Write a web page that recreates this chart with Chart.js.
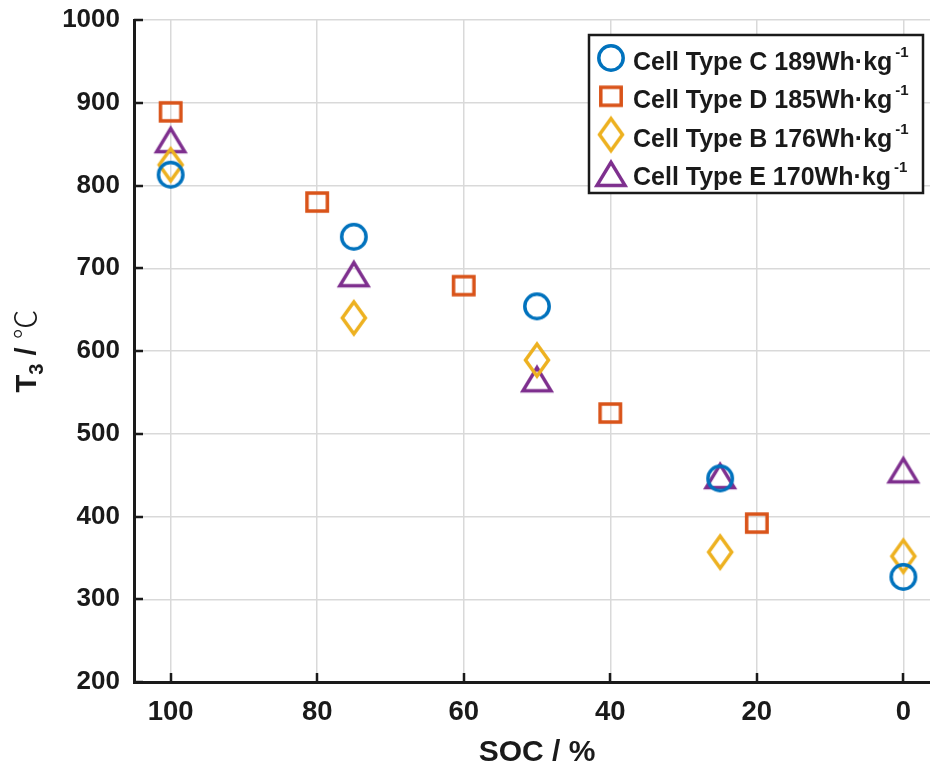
<!DOCTYPE html>
<html><head><meta charset="utf-8">
<script src="https://cdn.jsdelivr.net/npm/chart.js@4/dist/chart.umd.min.js"></script>
<style>html,body{margin:0;padding:0;overflow:hidden;background:#fff}#wrap{width:940px;height:765px;position:relative}</style>
</head><body><div id="wrap"><canvas id="c" width="940" height="765"></canvas></div>
<script>
// ---- data ----
const socC = [100, 75, 50, 25, 0];
const t3C  = [813, 738, 654, 446, 327];
const socD = [100, 80, 60, 40, 20];
const t3D  = [889, 780, 679, 525, 392];
const socB = [100, 75, 50, 25, 0];
const t3B  = [825, 640, 589, 357, 352];
const socE = [100, 75, 50, 25, 0];
const t3E  = [856, 694, 567, 450, 457];
const seriesNames = ['Cell Type C 189Wh\u00b7kg', 'Cell Type D 185Wh\u00b7kg', 'Cell Type B 176Wh\u00b7kg', 'Cell Type E 170Wh\u00b7kg'];
const seriesSup = '-1';
const xTicks = [0, 20, 40, 60, 80, 100];
const yTicks = [200, 300, 400, 500, 600, 700, 800, 900, 1000];
const xTitle = 'SOC / %';

const FONT = '"Liberation Sans", Arial, Helvetica, sans-serif';
const INK = '#1a1a1a';
const colors = ['#0072BD', '#D95319', '#EDB120', '#7E2F8E'];

function mk(w, h, color, draw) {
  const c = document.createElement('canvas'); c.width = w; c.height = h;
  const g = c.getContext('2d'); g.strokeStyle = color; g.lineWidth = 3.5; g.lineJoin = 'miter';
  g.beginPath(); draw(g, w / 2, h / 2); g.stroke(); return c;
}
const mCircle = mk(32, 32, colors[0], (g, cx, cy) => { g.arc(cx, cy, 12.2, 0, Math.PI * 2); });
const mSquare = mk(28, 26, colors[1], (g, cx, cy) => { g.rect(cx - 10.2, cy - 9, 20.4, 18); });
const mDiamond = mk(32, 42, colors[2], (g, cx, cy) => { g.moveTo(cx, cy - 16); g.lineTo(cx + 11.5, cy); g.lineTo(cx, cy + 16); g.lineTo(cx - 11.5, cy); g.closePath(); });
const mTri = mk(38, 36, colors[3], (g, cx, cy) => { const y0 = cy - 10.6; g.moveTo(cx, y0); g.lineTo(cx + 14, y0 + 23); g.lineTo(cx - 14, y0 + 23); g.closePath(); });
const markers = [mCircle, mSquare, mDiamond, mTri];

function pts(xs, ys) { return xs.map((x, i) => ({ x: x, y: ys[i] })); }

const decor = {
  id: 'decor',
  beforeDatasetsDraw(chart) {
    const ctx = chart.ctx, a = chart.chartArea, xs = chart.scales.x, ys = chart.scales.y;
    ctx.save(); ctx.strokeStyle = INK; ctx.lineWidth = 2.5;
    ctx.beginPath();
    xTicks.forEach(v => { const p = Math.round(xs.getPixelForValue(v)); ctx.moveTo(p, a.bottom); ctx.lineTo(p, a.bottom - 9); });
    yTicks.forEach(v => { const p = Math.round(ys.getPixelForValue(v)); ctx.moveTo(a.left, p); ctx.lineTo(a.left + 9, p); });
    ctx.stroke(); ctx.restore();
  },
  afterDraw(chart) {
    const ctx = chart.ctx, a = chart.chartArea;
    ctx.save();
    // x title
    ctx.fillStyle = INK; ctx.font = 'bold 30px ' + FONT; ctx.textAlign = 'center'; ctx.textBaseline = 'alphabetic';
    ctx.fillText(xTitle, (a.left + a.right) / 2, 761);
    // y title: T3 / ℃
    ctx.save();
    ctx.translate(36, (a.top + a.bottom) / 2); ctx.rotate(-Math.PI / 2);
    ctx.textAlign = 'left';
    const parts = [
      { t: 'T', f: 'bold 29px ' + FONT, dy: 0 },
      { t: '3', f: 'bold 20px ' + FONT, dy: 7 },
      { t: ' / ', f: 'bold 29px ' + FONT, dy: 0 },
      { t: '\u2103', f: '300 30px "Noto Sans CJK SC", "DejaVu Sans", sans-serif', dy: 0 }
    ];
    let total = 0; parts.forEach(p => { ctx.font = p.f; p.w = ctx.measureText(p.t).width; total += p.w; });
    let x = -total / 2;
    parts.forEach(p => { ctx.font = p.f; ctx.fillText(p.t, x, p.dy); x += p.w; });
    ctx.restore();
    // legend (box anchored to the top-right of the plot area)
    const bx = a.right - 17, by = a.top + 15, bw = 334, bh = 158;
    ctx.fillStyle = '#fff'; ctx.fillRect(bx - bw, by, bw, bh);
    ctx.strokeStyle = INK; ctx.lineWidth = 2.5; ctx.strokeRect(bx - bw, by, bw, bh);
    ctx.textAlign = 'left'; ctx.textBaseline = 'alphabetic';
    seriesNames.forEach((name, i) => {
      const base = by + 35 + i * 38.3;
      const m = markers[i];
      ctx.drawImage(m, bx - bw + 22 - m.width / 2, base - 12 - m.height / 2);
      ctx.fillStyle = INK; ctx.font = 'bold 25px ' + FONT;
      const tx = bx - bw + 44;
      ctx.fillText(name, tx, base);
      const w = ctx.measureText(name).width;
      ctx.font = 'bold 15px ' + FONT;
      ctx.fillText(seriesSup, tx + w + 3, base - 13);
    });
    ctx.restore();
  }
};

const ds = (label, xs, ys, i) => ({
  label: label, data: pts(xs, ys), pointStyle: markers[i], pointRadius: 14, pointHoverRadius: 14,
  borderColor: colors[i], backgroundColor: 'transparent', showLine: false
});

new Chart(document.getElementById('c'), {
  type: 'scatter',
  data: { datasets: [ds(seriesNames[0], socC, t3C, 0), ds(seriesNames[1], socD, t3D, 1), ds(seriesNames[2], socB, t3B, 2), ds(seriesNames[3], socE, t3E, 3)] },
  options: {
    responsive: false, animation: false, devicePixelRatio: 1,
    layout: { autoPadding: false, padding: { top: 20, right: 0, left: 0, bottom: 0 } },
    plugins: { legend: { display: false }, tooltip: { enabled: false } },
    scales: {
      x: {
        type: 'linear', reverse: true, min: -5, max: 105,
        afterBuildTicks: s => { s.ticks = xTicks.map(v => ({ value: v })); },
        afterFit: s => { s.height = 83; s.paddingLeft = 0; s.paddingRight = 0; },
        grid: { color: '#d9d9d9', lineWidth: 1.5, drawTicks: false },
        border: { display: true, color: INK, width: 3 },
        ticks: { font: { family: FONT, size: 27.5, weight: 'bold' }, color: INK, padding: 14, maxRotation: 0, callback: v => String(v) }
      },
      y: {
        min: 200, max: 1000,
        afterBuildTicks: s => { s.ticks = yTicks.map(v => ({ value: v })); },
        afterFit: s => { s.width = 134; s.paddingTop = 0; s.paddingBottom = 0; },
        grid: { color: '#d9d9d9', lineWidth: 1.5, drawTicks: false },
        border: { display: true, color: INK, width: 3 },
        ticks: { font: { family: FONT, size: 26, weight: 'bold' }, color: INK, padding: 14, callback: v => String(v) }
      }
    }
  },
  plugins: [decor]
});
</script></body></html>
